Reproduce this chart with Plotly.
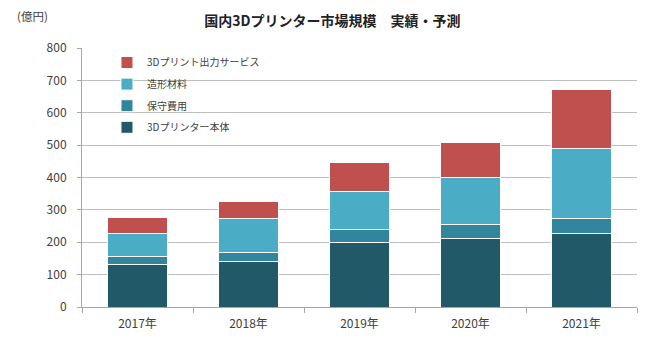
import plotly.graph_objects as go

years = ["2017年", "2018年", "2019年", "2020年", "2021年"]
printer_body = [132, 141, 200, 211, 227]
maintenance = [24, 28, 40, 44, 46]
materials = [71, 103, 116, 146, 217]
print_service = [50, 55, 89, 108, 182]

series = [
    ("3Dプリンター本体", printer_body, "#215968"),
    ("保守費用", maintenance, "#31859C"),
    ("造形材料", materials, "#4BACC6"),
    ("3Dプリント出力サービス", print_service, "#C0504D"),
]

font_family = "Noto Sans CJK JP, Noto Sans, sans-serif"

fig = go.Figure()
for i, (name, vals, color) in enumerate(series):
    fig.add_trace(go.Bar(
        x=years, y=vals, name=name, legendgroup=f"g{i}",
        legendrank=1000 - i,
        marker=dict(color=color, line=dict(color="white", width=1)),
        width=0.54,
    ))

pw = 665 - 82 - 28
ph = 344 - 48 - 37

fig.update_layout(
    width=665, height=344,
    barmode="stack",
    plot_bgcolor="white", paper_bgcolor="white",
    margin=dict(l=82, r=28, t=48, b=37),
    font=dict(family=font_family, size=11, color="#404040"),
    title=dict(text="<b>国内3Dプリンター市場規模　実績・予測</b>",
               x=0.5, xanchor="center", y=0.94, yanchor="middle",
               font=dict(size=14, color="#222222")),
    showlegend=True,
    legend=dict(x=0.045, y=1.0, xanchor="left", yanchor="top",
                traceorder="grouped", tracegroupgap=2.6,
                bgcolor="rgba(0,0,0,0)",
                font=dict(size=10, color="#404040"),
                itemwidth=30),
    annotations=[dict(text="(億円)", x=(15 - 82) / pw, y=(307 - 16) / ph,
                      xref="paper", yref="paper",
                      showarrow=False, xanchor="left", yanchor="middle",
                      font=dict(size=11.5, color="#404040"))],
)

fig.update_yaxes(range=[0, 800], dtick=100, showgrid=True, gridcolor="#BFBFBF",
                 gridwidth=1, showline=True, linecolor="#A6A6A6",
                 ticks="outside", ticklen=4, tickcolor="#A6A6A6",
                 zeroline=False, tickfont=dict(size=12),
                 ticklabelstandoff=8)
fig.update_xaxes(showline=True, linecolor="#A6A6A6", ticks="outside",
                 tickson="boundaries", ticklen=5, tickcolor="#A6A6A6",
                 tickfont=dict(size=12), ticklabelstandoff=6)

fig.write_html("out.html")
